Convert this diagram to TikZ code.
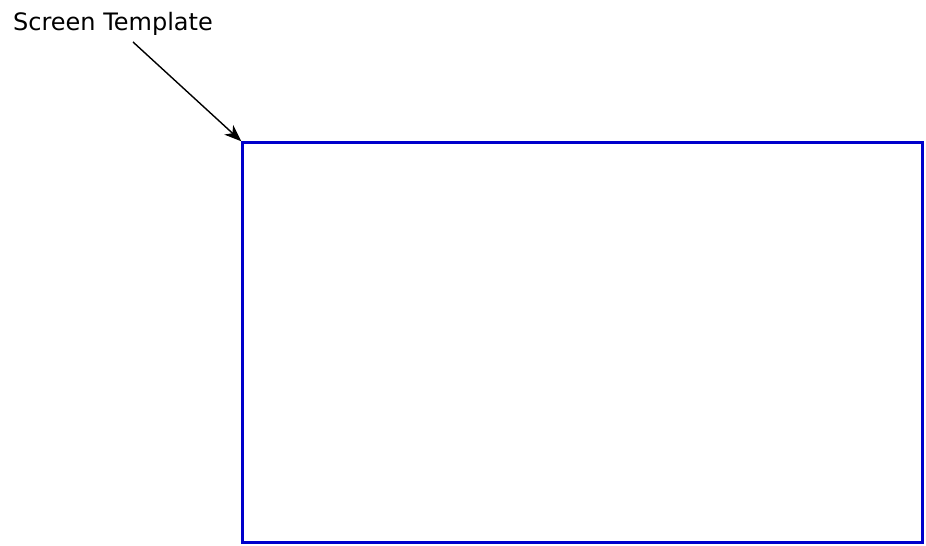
\documentclass[tikz,border=0pt]{standalone}
\usepackage{fontspec}
\setmainfont{DejaVu Sans}
\usetikzlibrary{arrows.meta}
\definecolor{screenblue}{HTML}{0000CC}
\tikzset{
  screenbox/.style={draw=screenblue, line width=3bp, minimum width=680bp, minimum height=400bp, inner sep=0pt, anchor=north west},
  label/.style={font=\fontsize{24bp}{28bp}\selectfont, inner sep=0pt, anchor=base},
  pointer/.style={line width=1.4bp, -{Stealth[length=17bp, width=13bp, inset=5bp]}}
}
\begin{document}
\begin{tikzpicture}[x=1bp,y=1bp]
\useasboundingbox (0,0) rectangle (926,546);
\node[screenbox] (screen) at (241.3,404.7) {};
\node[label] (title) at (113,515) {Screen Template};
\coordinate (start) at (133,504);
\draw[pointer] (start) -- (screen.north west);
\end{tikzpicture}
\end{document}
